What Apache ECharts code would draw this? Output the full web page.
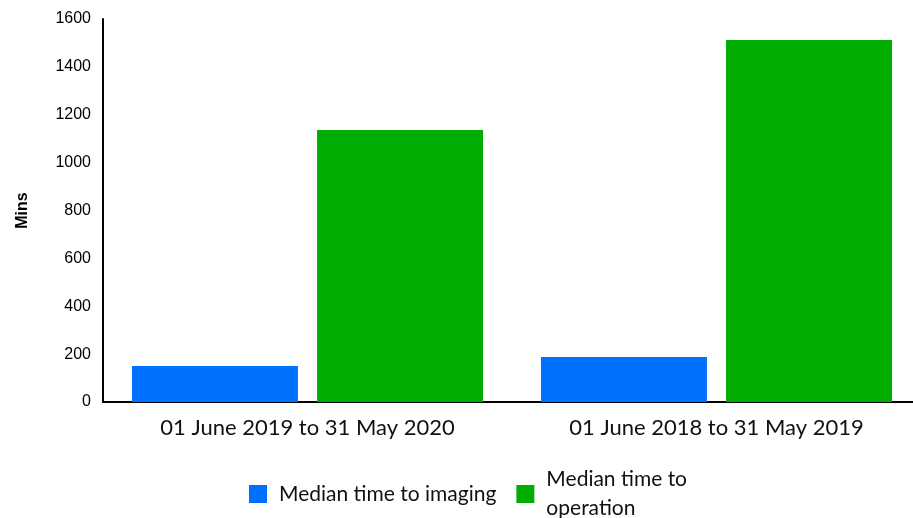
<!DOCTYPE html>
<html>
<head>
<meta charset="utf-8">
<script src="https://cdn.jsdelivr.net/npm/echarts@6/dist/echarts.min.js"></script>
<style>
  html, body { margin: 0; padding: 0; background: #fff; }
  #chart { width: 913px; height: 518px; }
</style>
</head>
<body>
<div id="chart"></div>
<script>
const categories = ["01 June 2019 to 31 May 2020", "01 June 2018 to 31 May 2019"];
const imagingValues = [150, 188];
const operationValues = [1136, 1512];
const seriesNames = ["Median time to imaging", "Median time to operation"];

const chart = echarts.init(document.getElementById("chart"));

chart.setOption({
  animation: false,
  grid: { left: 103, right: -8, top: 19, bottom: 116, outerBoundsMode: "none" },
  legend: {
    data: seriesNames,
    left: 244,
    top: 460,
    itemWidth: 18,
    itemHeight: 18,
    itemGap: 20,
    icon: "rect",
    textStyle: { fontFamily: "Lato", fontSize: 21, color: "#111", lineHeight: 29, padding: [0, 0, 0, 7] },
    formatter: (name) => name === seriesNames[1] ? "Median time to\noperation" : name,
  },
  xAxis: {
    type: "category",
    data: categories,
    axisLine: { lineStyle: { color: "#000", width: 2 } },
    axisTick: { show: false },
    axisLabel: { fontFamily: "Lato", fontSize: 22, color: "#111", margin: 15 },
  },
  yAxis: {
    type: "value",
    min: 0,
    max: 1600,
    interval: 200,
    name: "Mins",
    nameLocation: "middle",
    nameGap: 72,
    nameTextStyle: { fontFamily: "Liberation Sans", fontWeight: "bold", fontSize: 16, color: "#000" },
    axisLine: { show: true, lineStyle: { color: "#000", width: 2 } },
    axisTick: { show: false },
    splitLine: { show: false },
    axisLabel: {
      fontFamily: "Liberation Sans",
      fontSize: 16,
      color: "#000",
      margin: 12,
      formatter: (v) => String(v),
    },
  },
  series: [
    {
      name: seriesNames[0],
      type: "bar",
      data: imagingValues,
      barWidth: 166,
      barGap: "11.5%",
      itemStyle: { color: "#0070ff" },
    },
    {
      name: seriesNames[1],
      type: "bar",
      data: operationValues,
      barWidth: 166,
      itemStyle: { color: "#00ad00" },
    },
  ],
});
</script>
</body>
</html>
